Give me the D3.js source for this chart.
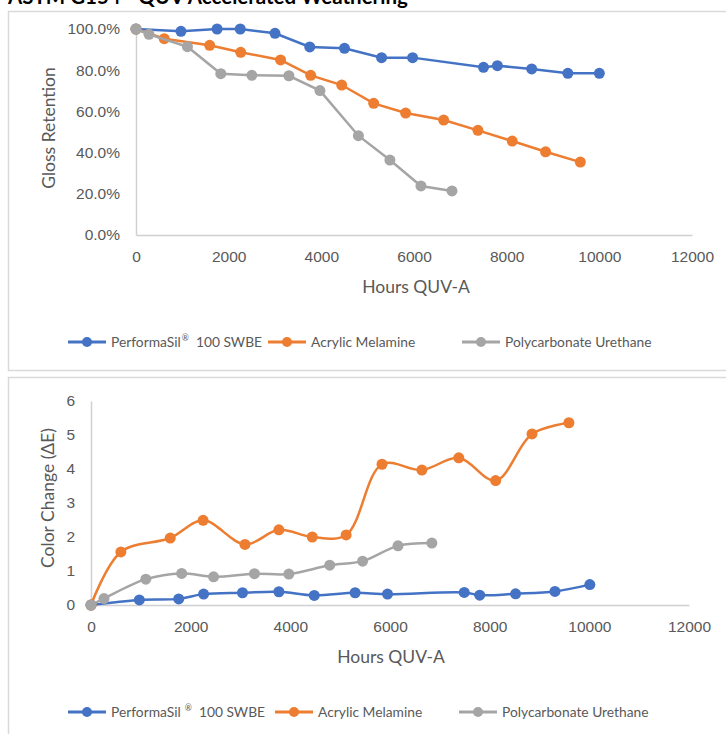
<!DOCTYPE html><meta charset="utf-8"><style>
    body { margin: 0; background: #fff; }
    svg { display: block; font-family: Lato, "Open Sans", sans-serif; }
    .tick text { fill: #595959; font-size: 15.5px; }
    .title { fill: #595959; font-size: 17.5px; }
    .legend text { fill: #595959; font-size: 13.8px; }
</style><svg width="726" height="734"></svg><script src="https://cdn.jsdelivr.net/npm/d3@7"></script><script>

    var width = 726, height = 734;

    var names = ["PerformaSil", "Acrylic Melamine", "Polycarbonate Urethane"];
    var colors = ["#4472C4", "#ED7D31", "#A5A5A5"];

    // gloss retention (%)
    var glossHours = [
        [0, 970, 1750, 2250, 3000, 3750, 4500, 5300, 5970, 7500, 7800, 8540, 9320, 10000],
        [0, 610, 1590, 2260, 3120, 3770, 4440, 5130, 5820, 6640, 7380, 8120, 8840, 9590],
        [0, 280, 1110, 1830, 2500, 3300, 3970, 4800, 5480, 6150, 6820]
    ];
    var glossValues = [
        [100, 98.9, 100, 100, 97.9, 91.3, 90.6, 86.1, 86.1, 81.4, 82.2, 80.6, 78.5, 78.5],
        [100, 95.3, 92.1, 88.7, 85, 77.5, 72.8, 63.9, 59.2, 55.8, 50.8, 45.6, 40.4, 35.4],
        [100, 97.4, 91.4, 78.3, 77.5, 77.3, 70.1, 48.2, 36.4, 23.8, 21.4]
    ];

    // color change (delta E)
    var colorHours = [
        [0, 970, 1760, 2260, 3040, 3770, 4480, 5300, 5950, 7490, 7800, 8520, 9310, 10010],
        [0, 600, 1590, 2250, 3090, 3770, 4440, 5120, 5840, 6640, 7380, 8120, 8850, 9590],
        [0, 260, 1100, 1820, 2460, 3280, 3970, 4790, 5450, 6160, 6840]
    ];
    var colorValues = [
        [0, 0.15, 0.18, 0.32, 0.36, 0.39, 0.28, 0.36, 0.32, 0.37, 0.29, 0.33, 0.40, 0.60],
        [0, 1.56, 1.97, 2.49, 1.78, 2.21, 2.0, 2.06, 4.14, 3.97, 4.33, 3.66, 5.03, 5.36],
        [0, 0.19, 0.76, 0.93, 0.83, 0.92, 0.91, 1.17, 1.29, 1.74, 1.82]
    ];

    var xTicks = [0, 2000, 4000, 6000, 8000, 10000, 12000];
    var glossTicks = [0, 20, 40, 60, 80, 100];
    var colorTicks = [0, 1, 2, 3, 4, 5, 6];

    const svg = d3.select("svg")
        .attr("viewBox", [0, 0, width, height]);

    // report title, cut by the top edge as in the source picture
    svg.append("text")
        .attr("x", 8).attr("y", 4)
        .attr("font-size", 20.5).attr("font-weight", "bold")
        .attr("fill", "#000")
        .text("ASTM G154 - QUV Accelerated Weathering");

    // panel borders
    svg.append("rect").attr("x", 8.5).attr("y", 11.5).attr("width", 730).attr("height", 359)
        .attr("fill", "none").attr("stroke", "#d9d9d9").attr("stroke-width", 1.5);
    svg.append("rect").attr("x", 8.5).attr("y", 377.5).attr("width", 730).attr("height", 370)
        .attr("fill", "none").attr("stroke", "#d9d9d9").attr("stroke-width", 1.5);

    function drawChart(opt) {
        var g = svg.append("g");

        var x = d3.scaleLinear().domain([0, 12000]).range([opt.left, opt.right]);
        var y = d3.scaleLinear().domain(opt.yDomain).range([opt.bottom, opt.top]);

        g.append("g")
            .attr("transform", `translate(0,${opt.bottom})`)
            .call(d3.axisBottom(x).tickValues(xTicks).tickSize(0).tickPadding(16).tickFormat(d3.format("d")))
            .call(g => g.select(".domain").attr("stroke", "#d0d0d0").attr("stroke-width", 1.5));

        g.append("g")
            .attr("transform", `translate(${opt.left},0)`)
            .call(d3.axisLeft(y).tickValues(opt.yTicks).tickSize(0).tickPadding(16).tickFormat(opt.yFormat))
            .call(g => g.select(".domain").attr("stroke", "#d0d0d0").attr("stroke-width", 1.5));

        g.selectAll(".tick text").attr("font-family", null).attr("font-size", null);

        g.append("text").attr("class", "title")
            .attr("x", opt.xTitleX).attr("y", opt.xTitleY)
            .attr("text-anchor", "middle")
            .text("Hours QUV-A");

        g.append("text").attr("class", "title")
            .attr("transform", `translate(${opt.yTitleX},${opt.yTitleY}) rotate(-90)`)
            .attr("text-anchor", "middle")
            .text(opt.yTitle);

        var line = d3.line()
            .x(d => x(d[0]))
            .y(d => y(d[1]))
            .curve(opt.curve);

        opt.hours.forEach((hrs, s) => {
            var pts = hrs.map((h, i) => [h, opt.values[s][i]]);
            g.append("path")
                .attr("d", line(pts))
                .attr("fill", "none")
                .attr("stroke", colors[s])
                .attr("stroke-width", 2.5);
            g.append("g").selectAll("circle")
                .data(pts)
                .join("circle")
                .attr("cx", d => x(d[0]))
                .attr("cy", d => y(d[1]))
                .attr("r", 5.5)
                .attr("fill", colors[s]);
        });

        // legend
        var lg = g.append("g").attr("class", "legend");
        names.forEach((n, s) => {
            var item = lg.append("g").attr("transform", `translate(${opt.legendX[s]},${opt.legendY})`);
            item.append("line").attr("x1", 0).attr("x2", 38)
                .attr("stroke", colors[s]).attr("stroke-width", 3);
            item.append("circle").attr("cx", 19).attr("r", 5).attr("fill", colors[s]);
            var t = item.append("text").attr("x", 43).attr("y", 5).text(n);
            if (s === 0) {
                t.append("tspan").attr("dx", opt.regGap).attr("dy", -6)
                    .attr("font-size", 8.5).text("\u00AE");
                t.append("tspan").attr("dy", 6).text("\u00A0 100 SWBE");
            }
        });
    }

    drawChart({
        left: 136, right: 692, top: 29, bottom: 235,
        yDomain: [0, 100], yTicks: glossTicks,
        yFormat: d => d.toFixed(1) + "%",
        yTitle: "Gloss Retention", yTitleX: 55, yTitleY: 128,
        xTitleX: 416, xTitleY: 293,
        hours: glossHours, values: glossValues,
        curve: d3.curveLinear,
        legendX: [68, 268, 462], legendY: 342, regGap: 1
    });

    drawChart({
        left: 91, right: 689, top: 401, bottom: 605,
        yDomain: [0, 6], yTicks: colorTicks,
        yFormat: d3.format("d"),
        yTitle: "Color Change (\u0394E)", yTitleX: 54, yTitleY: 498,
        xTitleX: 391, xTitleY: 663,
        hours: colorHours, values: colorValues,
        curve: d3.curveCatmullRom.alpha(0.5),
        legendX: [68, 275, 459], legendY: 712, regGap: 4
    });

</script>
